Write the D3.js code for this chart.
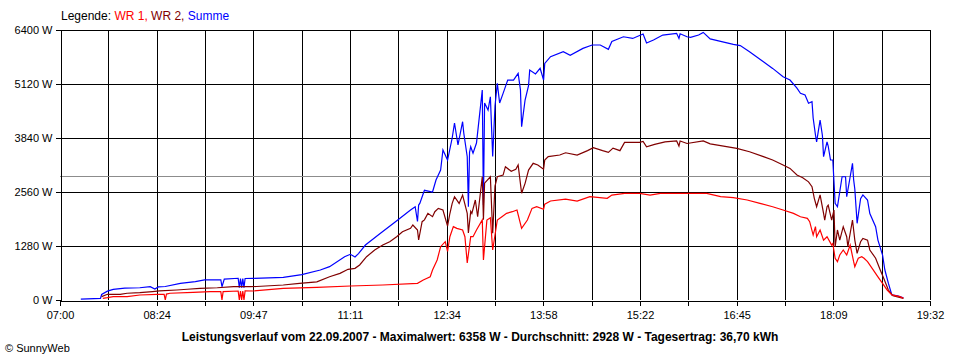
<!DOCTYPE html>
<html><head><meta charset="utf-8">
<script src="https://cdn.jsdelivr.net/npm/d3@7"></script>
<style>
body{margin:0;background:#fff;}
svg{display:block;}
text{font-family:"Liberation Sans",Arial,sans-serif;}
</style></head>
<body><svg id="c" width="960" height="360"></svg>
<script>
const seriesNames = ["WR 1", "WR 2", "Summe"];
const seriesColors = ["#ff0000", "#800000", "#0000ff"];
const xTickLabels = ["07:00","08:24","09:47","11:11","12:34","13:58","15:22","16:45","18:09","19:32"];
const yTickValues = [0, 1280, 2560, 3840, 5120, 6400];
const average = 2928;
const title = "Leistungsverlauf vom 22.09.2007 - Maximalwert: 6358 W - Durchschnitt: 2928 W - Tagesertrag: 36,70 kWh";

const wr1 = [["07:37",40],["07:41",55],["07:46",80],["07:58",80],["08:09",118],["08:24",135],["08:30",135],["08:31",0],["08:32",140],
["08:35",160],["08:55",182],["09:10",197],["09:19",200],["09:20",0],["09:21",200],["09:34",213],["09:35",0],["09:36",213],["09:37",0],
["09:38",213],["09:39",0],["09:40",215],["09:47",213],["10:13",277],["10:42",300],["11:11",332],["11:39",355],["12:09",395],["12:14",474],
["12:20",552],["12:22",711],["12:26",948],["12:29",1263],["12:33",1382],["12:35",1150],["12:37",1500],["12:40",1740],["12:43",1699],
["12:48",1660],["12:50",1500],["12:52",877],["12:55",1500],["12:57",1500],["13:00",1660],["13:05",1900],["13:06",948],["13:09",1896],
["13:12",1950],["13:14",1185],["13:18",1896],["13:22",1974],["13:26",2054],["13:31",2093],["13:35",2133],["13:39",1700],["13:44",1896],
["13:48",2172],["13:52",2211],["13:58",2150],["13:59",2270],["14:04",2346],["14:17",2393],["14:27",2346],["14:38",2450],["14:53",2410],
["14:57",2488],["15:08",2528],["15:21",2528],["15:30",2488],["15:39",2528],["16:02",2528],["16:19",2528],["16:31",2450],["16:42",2425],
["16:54",2370],["17:05",2291],["17:16",2211],["17:25",2133],["17:34",2054],["17:40",1974],["17:46",1935],["17:48",1856],["17:51",1540],
["17:53",1740],["17:54",1500],["17:57",1660],["18:00",1420],["18:03",1500],["18:07",1303],["18:08",1340],["18:10",988],["18:12",908],
["18:14",1066],["18:17",1185],["18:20",1066],["18:23",1303],["18:26",908],["18:27",790],["18:30",988],["18:33",1026],["18:35",988],
["18:38",908],["18:42",750],["18:47",550],["18:51",395],["18:55",237],["18:59",120],["19:06",80],["19:09",40]];

const wr2 = [["07:36",80],["07:41",135],["07:52",135],["07:58",160],["08:09",175],["08:20",200],["08:26",215],["08:41",237],["08:50",255],
["09:01",277],["09:16",290],["09:30",315],["09:44",315],["09:50",320],["10:13",355],["10:27",395],["10:42",430],["10:53",552],["11:02",632],
["11:09",727],["11:15",750],["11:19",830],["11:25",1026],["11:32",1185],["11:39",1303],["11:45",1380],["11:51",1500],["11:56",1619],
["12:03",1700],["12:05",1778],["12:09",1660],["12:10",1422],["12:13",1856],["12:15",1900],["12:18",2054],["12:22",1975],["12:24",2093],
["12:27",2172],["12:31",2133],["12:35",1750],["12:37",2050],["12:39",2291],["12:41",2448],["12:45",2290],["12:48",2488],["12:52",2054],
["12:53",1590],["12:55",2100],["12:56",2054],["12:59",2370],["13:01",1974],["13:05",2922],["13:06",1900],["13:07",2770],["13:12",2922],
["13:14",1580],["13:16",2700],["13:18",2922],["13:23",2962],["13:25",3160],["13:30",3050],["13:34",3100],["13:36",3200],["13:39",2530],
["13:42",2765],["13:45",3080],["13:49",3240],["13:53",3200],["13:58",3100],["13:59",3318],["14:02",3397],["14:12",3437],["14:17",3490],
["14:27",3437],["14:36",3540],["14:41",3610],["14:49",3540],["14:54",3500],["14:58",3600],["15:04",3540],["15:08",3737],["15:21",3737],
["15:24",3760],["15:27",3630],["15:34",3690],["15:43",3750],["15:53",3770],["15:55",3650],["15:56",3770],["16:02",3710],["16:16",3770],
["16:22",3700],["16:31",3660],["16:45",3595],["16:56",3515],["17:08",3397],["17:16",3318],["17:25",3200],["17:31",3120],["17:37",2962],
["17:42",2900],["17:47",2800],["17:50",2685],["17:52",2409],["17:54",2211],["17:57",2490],["18:00",2054],["18:01",1890],["18:03",2211],
["18:04",2250],["18:07",1896],["18:09",2130],["18:10",1263],["18:12",1660],["18:14",1420],["18:17",1737],["18:20",1500],["18:21",1263],
["18:25",1896],["18:27",1420],["18:29",1106],["18:32",1380],["18:34",1460],["18:38",1420],["18:40",1185],["18:45",990],["18:49",711],
["18:52",514],["18:56",237],["19:00",100],["19:09",40]];

const summe = [["07:18",20],["07:35",40],["07:36",130],["07:41",210],["07:46",250],["07:56",280],["08:09",290],["08:18",315],["08:22",260],
["08:25",310],["08:31",320],["08:44",395],["08:57",435],["09:05",475],["09:19",480],["09:20",315],["09:22",495],["09:34",515],["09:35",290],
["09:36",510],["09:37",290],["09:38",505],["09:39",290],["09:40",510],["09:47",514],["10:13",537],["10:29",600],["10:45",711],["10:53",790],
["11:06",1026],["11:11",1083],["11:15",1020],["11:18",1100],["11:24",1303],["11:37",1580],["11:50",1856],["12:03",2133],["12:07",2211],
["12:09",1860],["12:10",2250],["12:11",2290],["12:15",2600],["12:22",2560],["12:25",2844],["12:29",3081],["12:31",3555],["12:35",3318],
["12:39",3840],["12:41",4195],["12:44",3674],["12:48",4226],["12:49",3958],["12:52",3397],["12:53",2211],["12:54",3500],["12:55",3634],
["12:57",3479],["13:00",3721],["13:05",4977],["13:06",2251],["13:07",4669],["13:10",4503],["13:12",4818],["13:14",3400],["13:16",4600],
["13:18",5135],["13:20",4669],["13:23",4898],["13:27",5214],["13:32",5214],["13:36",5372],["13:38",4980],["13:39",4108],["13:42",4740],
["13:45",5080],["13:46",5451],["13:51",5360],["13:55",5491],["13:58",5214],["13:59",5609],["14:04",5767],["14:15",5885],["14:21",5800],
["14:32",5964],["14:40",6044],["14:47",6044],["14:54",5941],["14:57",6130],["15:07",6240],["15:15",6200],["15:24",6304],["15:27",6091],
["15:33",6162],["15:41",6280],["15:53",6320],["15:55",6200],["15:56",6310],["16:02",6240],["16:05",6225],["16:12",6280],["16:16",6343],
["16:22",6190],["16:31",6130],["16:42",6060],["16:48",6030],["16:56",5885],["17:08",5648],["17:16",5490],["17:25",5293],["17:31",5214],
["17:37",5024],["17:40",4900],["17:44",4860],["17:47",4665],["17:50",4700],["17:51",4313],["17:53",3911],["17:54",3750],["17:57",4266],
["17:59",3900],["18:00",3397],["18:03",3750],["18:04",3650],["18:06",3318],["18:08",3318],["18:10",2291],["18:12",2211],["18:16",2922],
["18:19",2922],["18:20",2448],["18:23",2922],["18:25",3240],["18:26",2850],["18:27",2630],["18:29",1818],["18:32",2400],["18:34",2490],
["18:38",2370],["18:40",2050],["18:45",1737],["18:47",1420],["18:51",1066],["18:53",711],["18:56",400],["18:59",120],["19:04",100],["19:09",50]];

const svg = d3.select("#c");
const L = 60, R = 930, T = 30, B = 300;
const toMin = s => { const [h, m] = s.split(":").map(Number); return h * 60 + m; };
const t0 = toMin(xTickLabels[0]), t1 = toMin(xTickLabels[xTickLabels.length - 1]);
const x = d3.scaleLinear().domain([t0, t1]).range([L, R]);
const y = d3.scaleLinear().domain([0, 6400]).range([B, T]);

const nGrid = (xTickLabels.length - 1) * 2;
const xTicks = d3.range(nGrid + 1).map(i => t0 + i * (t1 - t0) / nGrid);

const g = svg.append("g").attr("shape-rendering", "crispEdges");
g.selectAll(".vg").data(xTicks.slice(1)).join("line")
  .attr("x1", d => Math.round(x(d)) + 0.5).attr("x2", d => Math.round(x(d)) + 0.5)
  .attr("y1", T).attr("y2", B).attr("stroke", "#000");
g.selectAll(".hg").data(yTickValues.slice(1)).join("line")
  .attr("x1", L).attr("x2", R + 1)
  .attr("y1", d => Math.round(y(d)) + 0.5).attr("y2", d => Math.round(y(d)) + 0.5).attr("stroke", "#000");
g.append("line").attr("x1", L).attr("x2", R)
  .attr("y1", Math.round(y(average)) + 0.5).attr("y2", Math.round(y(average)) + 0.5)
  .attr("stroke", "#8c8c8c");

const xAxis = d3.axisBottom(x).tickValues(xTicks).tickSize(5).tickSizeOuter(0)
  .tickFormat((d, i) => i % 2 === 0 ? xTickLabels[i / 2] : "");
const gx = svg.append("g").attr("transform", `translate(0,${B + 0.5})`).call(xAxis);
const yAxis = d3.axisLeft(y).tickValues(yTickValues).tickSize(5).tickSizeOuter(0)
  .tickFormat(d => d + " W");
const gy = svg.append("g").attr("transform", `translate(${L + 0.5},0)`).call(yAxis);
[gx, gy].forEach(a => {
  a.attr("shape-rendering", "crispEdges");
  a.selectAll("path").attr("stroke", "#000");
  a.selectAll("line").attr("stroke", "#000");
  a.selectAll("text").attr("fill", "#000").attr("font-size", 11)
    .attr("font-family", '"Liberation Sans", Arial, sans-serif');
});
gx.selectAll("text").attr("dy", "0.71em").attr("y", 11);
gy.selectAll("text").attr("x", -8);

const line = d3.line().x(d => x(toMin(d[0]))).y(d => y(d[1]));
const all = [wr1, wr2, summe];
[2, 1, 0].forEach(i => {
  svg.append("path").datum(all[i]).attr("d", line)
    .attr("fill", "none").attr("stroke", seriesColors[i]).attr("stroke-width", 1.2);
});

const lg = svg.append("text").attr("x", 61).attr("y", 20).attr("font-size", 12);
lg.append("tspan").attr("fill", "#000").text("Legende: ");
seriesNames.forEach((n, i) => {
  lg.append("tspan").attr("fill", seriesColors[i]).text(n + (i < seriesNames.length - 1 ? ", " : ""));
});

svg.append("text").attr("x", 480).attr("y", 341).attr("text-anchor", "middle")
  .attr("font-size", 12).attr("font-weight", "bold").attr("fill", "#000").text(title);
svg.append("text").attr("x", 5).attr("y", 352).attr("font-size", 11).attr("fill", "#000").text("© SunnyWeb");
</script></body></html>
